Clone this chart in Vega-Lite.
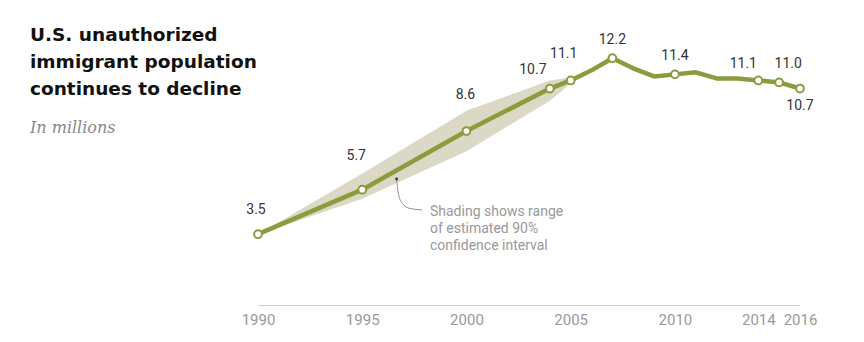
{
  "$schema": "https://vega.github.io/schema/vega-lite/v6.json",
  "width": 542,
  "height": 263,
  "autosize": "none",
  "padding": {"left": 258, "top": 42, "right": 64, "bottom": 37},
  "background": "white",
  "config": {"view": {"stroke": null}, "font": "Roboto"},
  "title": {
    "text": ["U.S. unauthorized", "immigrant population", "continues to decline"],
    "subtitle": "In millions",
    "orient": "top",
    "anchor": "start",
    "frame": "group",
    "align": "left",
    "dx": -228,
    "dy": 107,
    "font": "DejaVu Sans",
    "fontSize": 18.5,
    "fontWeight": "bold",
    "color": "#111111",
    "lineHeight": 26.7,
    "subtitleFont": "DejaVu Serif",
    "subtitleFontStyle": "italic",
    "subtitleFontSize": 16,
    "subtitleColor": "#888888",
    "subtitlePadding": 22
  },
  "datasets": {
    "series": [
      {"year": 1990, "value": 3.5, "pt": true},
      {"year": 1995, "value": 5.7, "pt": true},
      {"year": 2000, "value": 8.6, "pt": true},
      {"year": 2004, "value": 10.7, "pt": true},
      {"year": 2005, "value": 11.1, "pt": true},
      {"year": 2006, "value": 11.6, "pt": false},
      {"year": 2007, "value": 12.2, "pt": true},
      {"year": 2008, "value": 11.7, "pt": false},
      {"year": 2009, "value": 11.3, "pt": false},
      {"year": 2010, "value": 11.4, "pt": true},
      {"year": 2011, "value": 11.5, "pt": false},
      {"year": 2012, "value": 11.2, "pt": false},
      {"year": 2013, "value": 11.2, "pt": false},
      {"year": 2014, "value": 11.1, "pt": true},
      {"year": 2015, "value": 11.0, "pt": true},
      {"year": 2016, "value": 10.7, "pt": true}
    ],
    "band": [
      {"year": 1990, "lo": 3.5, "hi": 3.5},
      {"year": 1995, "lo": 5.25, "hi": 6.5},
      {"year": 2000, "lo": 7.6, "hi": 9.6},
      {"year": 2004, "lo": 10.1, "hi": 11.1},
      {"year": 2005, "lo": 10.95, "hi": 11.25}
    ],
    "leader": [
      {"year": 1996.65, "value": 6.23, "o": 1},
      {"year": 1996.72, "value": 5.59, "o": 2},
      {"year": 1996.91, "value": 5.04, "o": 3},
      {"year": 1997.29, "value": 4.77, "o": 4},
      {"year": 1997.87, "value": 4.70, "o": 5}
    ],
    "note": [
      {"year": 1998.25, "value": 4.4, "text": "Shading shows range\nof estimated 90%\nconfidence interval"}
    ]
  },
  "encoding": {
    "x": {
      "field": "year", "type": "quantitative",
      "scale": {"domain": [1990, 2016], "nice": false, "zero": false},
      "axis": {
        "title": null, "values": [1990, 1995, 2000, 2005, 2010, 2014, 2016],
        "format": "d", "grid": false, "ticks": false,
        "domainColor": "#cccccc", "domainWidth": 1,
        "labelColor": "#999999", "labelFontSize": 15, "labelFont": "Roboto",
        "labelPadding": 7, "labelFlush": false
      }
    },
    "y": {
      "field": "value", "type": "quantitative",
      "scale": {"domain": [0, 13], "nice": false},
      "axis": null
    }
  },
  "layer": [
    {
      "data": {"name": "band"},
      "mark": {"type": "area", "color": "#dbd8c5", "opacity": 1},
      "encoding": {
        "y": {"field": "lo", "type": "quantitative"},
        "y2": {"field": "hi"}
      }
    },
    {
      "data": {"name": "series"},
      "mark": {"type": "line", "color": "#8b9b3d", "strokeWidth": 4.5, "strokeJoin": "round", "strokeCap": "round"}
    },
    {
      "data": {"name": "series"},
      "transform": [{"filter": "datum.pt"}],
      "mark": {"type": "point", "filled": true, "fill": "white", "stroke": "#8b9b3d", "strokeWidth": 2, "size": 60, "opacity": 1}
    },
    {
      "data": {"name": "leader"},
      "mark": {"type": "line", "color": "#777777", "strokeWidth": 0.8, "interpolate": "monotone"},
      "encoding": {"order": {"field": "o"}}
    },
    {
      "data": {"name": "leader"},
      "transform": [{"filter": "datum.o == 1"}],
      "mark": {"type": "point", "filled": true, "color": "#333333", "size": 8, "opacity": 1}
    },
    {
      "data": {"name": "note"},
      "mark": {"type": "text", "align": "left", "baseline": "alphabetic", "lineBreak": "\n", "lineHeight": 17, "fontSize": 14, "color": "#999999", "font": "Roboto"},
      "encoding": {"text": {"field": "text"}}
    },
    {
      "data": {"name": "series"},
      "transform": [{"filter": "datum.year == 2007 || datum.year == 2010"}],
      "mark": {"type": "text", "baseline": "middle", "fontSize": 14, "color": "#333333", "dy": -18},
      "encoding": {"text": {"field": "value", "format": ".1f"}}
    },
    {
      "data": {"name": "series"},
      "transform": [{"filter": "datum.year == 1990"}],
      "mark": {"type": "text", "baseline": "middle", "fontSize": 14, "color": "#333333", "dx": -2, "dy": -24},
      "encoding": {"text": {"field": "value", "format": ".1f"}}
    },
    {
      "data": {"name": "series"},
      "transform": [{"filter": "datum.year == 1995"}],
      "mark": {"type": "text", "baseline": "middle", "fontSize": 14, "color": "#333333", "dx": -6, "dy": -34},
      "encoding": {"text": {"field": "value", "format": ".1f"}}
    },
    {
      "data": {"name": "series"},
      "transform": [{"filter": "datum.year == 2000"}],
      "mark": {"type": "text", "baseline": "middle", "fontSize": 14, "color": "#333333", "dx": -1, "dy": -36},
      "encoding": {"text": {"field": "value", "format": ".1f"}}
    },
    {
      "data": {"name": "series"},
      "transform": [{"filter": "datum.year == 2004"}],
      "mark": {"type": "text", "baseline": "middle", "fontSize": 14, "color": "#333333", "dx": -17, "dy": -19},
      "encoding": {"text": {"field": "value", "format": ".1f"}}
    },
    {
      "data": {"name": "series"},
      "transform": [{"filter": "datum.year == 2005"}],
      "mark": {"type": "text", "baseline": "middle", "fontSize": 14, "color": "#333333", "dx": -7, "dy": -26},
      "encoding": {"text": {"field": "value", "format": ".1f"}}
    },
    {
      "data": {"name": "series"},
      "transform": [{"filter": "datum.year == 2014"}],
      "mark": {"type": "text", "baseline": "middle", "fontSize": 14, "color": "#333333", "dx": -15, "dy": -16},
      "encoding": {"text": {"field": "value", "format": ".1f"}}
    },
    {
      "data": {"name": "series"},
      "transform": [{"filter": "datum.year == 2015"}],
      "mark": {"type": "text", "baseline": "middle", "fontSize": 14, "color": "#333333", "dx": 9, "dy": -18},
      "encoding": {"text": {"field": "value", "format": ".1f"}}
    },
    {
      "data": {"name": "series"},
      "transform": [{"filter": "datum.year == 2016"}],
      "mark": {"type": "text", "baseline": "middle", "fontSize": 14, "color": "#333333", "dx": 0, "dy": 17},
      "encoding": {"text": {"field": "value", "format": ".1f"}}
    }
  ]
}
